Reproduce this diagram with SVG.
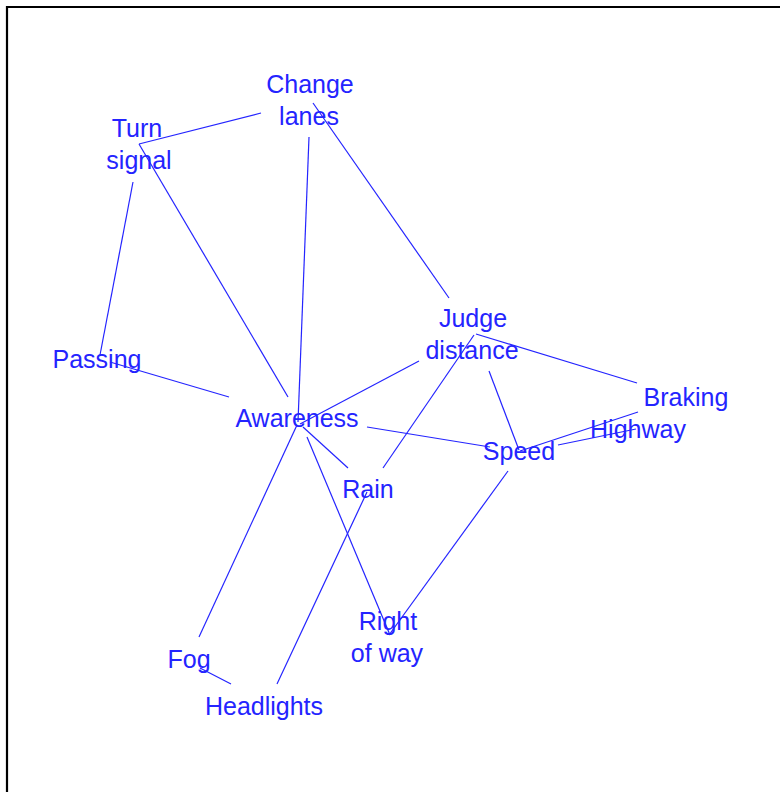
<svg xmlns="http://www.w3.org/2000/svg" width="780" height="792" viewBox="0 0 780 792">
<style>
.t{font-family:"Liberation Sans",Arial,sans-serif;font-size:25px;fill:#2424ff;text-anchor:middle}
.e line{stroke:#2424ff;stroke-width:1.2;fill:none}
</style>
<rect x="0" y="0" width="780" height="792" fill="#ffffff"/>
<path d="M7,792 V7 H780" fill="none" stroke="#000" stroke-width="2.2"/>
<g id="connectors" class="e">
<line x1="139" y1="144" x2="261" y2="113"/>
<line x1="309" y1="137" x2="298" y2="422"/>
<line x1="313" y1="103" x2="449" y2="298"/>
<line x1="139" y1="144" x2="288" y2="397"/>
<line x1="133" y1="182" x2="100" y2="355"/>
<line x1="110" y1="362" x2="229" y2="397"/>
<line x1="300" y1="424" x2="419" y2="361"/>
<line x1="367" y1="427" x2="490" y2="447"/>
<line x1="476" y1="334" x2="637" y2="383"/>
<line x1="474" y1="335" x2="383" y2="468"/>
<line x1="489" y1="371" x2="519" y2="450"/>
<line x1="520" y1="451" x2="638" y2="412"/>
<line x1="558" y1="445" x2="636" y2="429"/>
<line x1="508" y1="471" x2="389" y2="635"/>
<line x1="307" y1="437" x2="390" y2="635"/>
<line x1="303" y1="427" x2="348" y2="468"/>
<line x1="297" y1="425" x2="199" y2="637"/>
<line x1="367" y1="492" x2="277" y2="684"/>
<line x1="200" y1="668" x2="231" y2="684"/>
</g>
<g id="change-lanes"><text class="t" x="310" y="93">Change</text><text class="t" x="309" y="125">lanes</text></g>
<g id="turn-signal"><text class="t" x="137" y="137">Turn</text><text class="t" x="139" y="169">signal</text></g>
<g id="passing"><text class="t" x="97" y="368">Passing</text></g>
<g id="awareness"><text class="t" x="297" y="427">Awareness</text></g>
<g id="judge-distance"><text class="t" x="473" y="327">Judge</text><text class="t" x="472" y="359">distance</text></g>
<g id="braking"><text class="t" x="686" y="406">Braking</text></g>
<g id="highway"><text class="t" x="638" y="438">Highway</text></g>
<g id="speed"><text class="t" x="519" y="460">Speed</text></g>
<g id="rain"><text class="t" x="368" y="498">Rain</text></g>
<g id="right-of-way"><text class="t" x="388" y="630">Right</text><text class="t" x="387" y="662">of way</text></g>
<g id="fog"><text class="t" x="189" y="668">Fog</text></g>
<g id="headlights"><text class="t" x="264" y="715">Headlights</text></g>
</svg>
